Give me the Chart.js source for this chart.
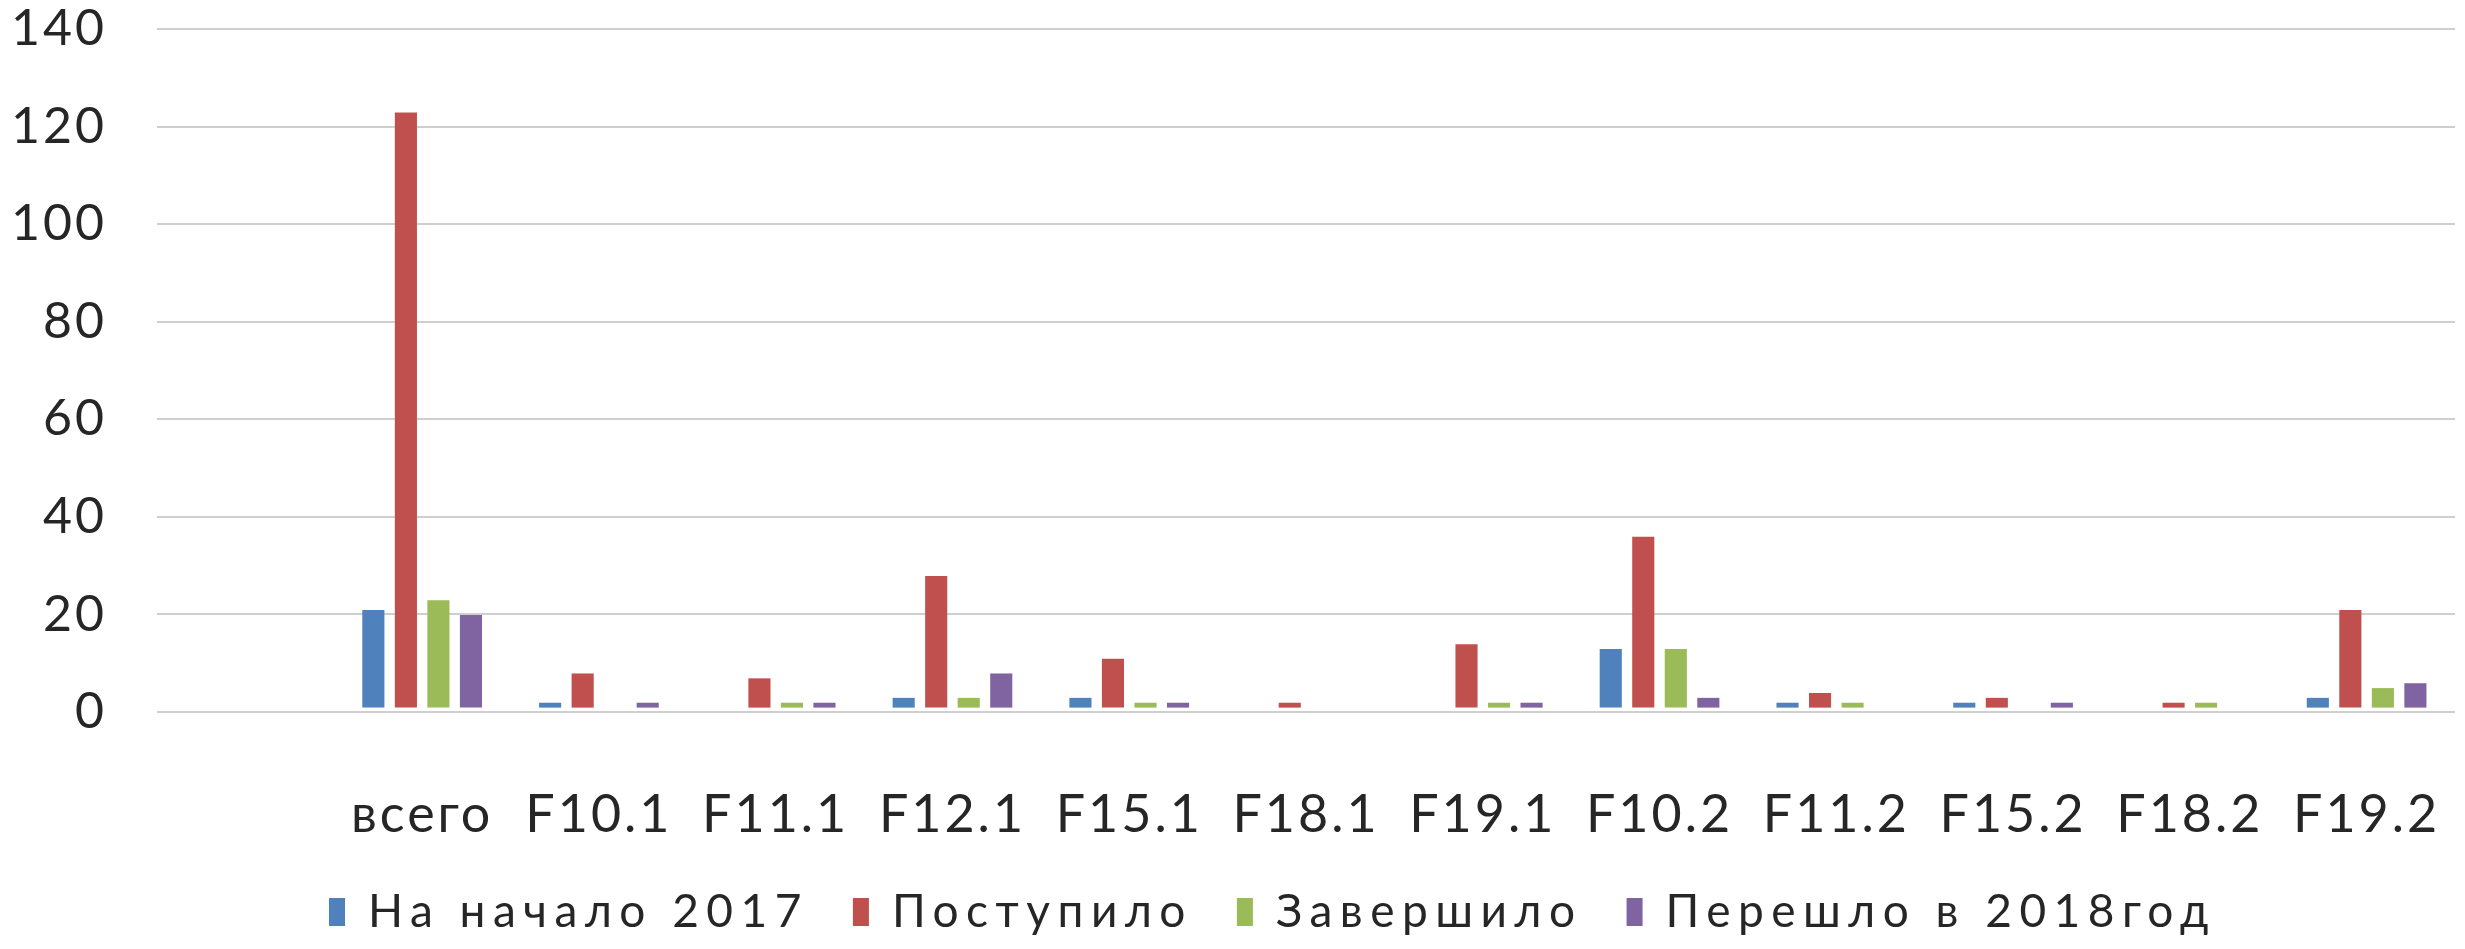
<!DOCTYPE html>
<html>
<head>
<meta charset="utf-8">
<script src="https://cdn.jsdelivr.net/npm/chart.js@4"></script>
<style>
  html, body { margin: 0; padding: 0; background: #ffffff; }
  #wrap { width: 2465px; height: 949px; position: relative; }
</style>
</head>
<body>
<div id="wrap"><canvas id="c"></canvas></div>
<script>
// ---- data ----
const categories = ['', 'всего', 'F10.1', 'F11.1', 'F12.1', 'F15.1', 'F18.1', 'F19.1', 'F10.2', 'F11.2', 'F15.2', 'F18.2', 'F19.2'];
const seriesNames = ['На начало 2017', 'Поступило', 'Завершило', 'Перешло в 2018год'];
const naNachalo2017 = [null, 20, 1, 0, 2, 2, 0, 0, 12, 1, 1, 0, 2];
const postupilo     = [null, 122, 7, 6, 27, 10, 1, 13, 35, 3, 2, 1, 20];
const zavershilo    = [null, 22, 0, 1, 2, 1, 0, 1, 12, 1, 0, 1, 4];
const pereshlo2018  = [null, 19, 1, 1, 7, 1, 0, 1, 2, 0, 1, 0, 5];
const yTicks = [0, 20, 40, 60, 80, 100, 120, 140];

const colors = ['#4F81BD', '#C0504D', '#9BBB59', '#8064A2'];
const FONT = 'Lato';
const TEXT = '#262626';
const SPACING = '3px';
const LEGEND_SPACING = '7.5px';
const LEGEND_SHIFT = 45;

const spacingPlugin = {
  id: 'spacing',
  afterInit(c) {
    const lg = c.legend;
    if (!lg) return;
    const fit0 = lg.fit, draw0 = lg.draw;
    lg.fit = function () {
      const ctx = this.ctx; const p = ctx.letterSpacing;
      ctx.letterSpacing = LEGEND_SPACING; fit0.call(this); ctx.letterSpacing = p;
    };
    lg.draw = function () {
      const ctx = this.ctx; ctx.save();
      ctx.letterSpacing = LEGEND_SPACING; ctx.translate(LEGEND_SHIFT, 0);
      draw0.call(this); ctx.restore();
    };
  },
  beforeUpdate(c) { c.ctx.letterSpacing = SPACING; },
  beforeLayout(c) { c.ctx.letterSpacing = SPACING; },
  beforeDraw(c) { c.ctx.letterSpacing = SPACING; }
};

const seriesData = [naNachalo2017, postupilo, zavershilo, pereshlo2018];
const datasets = seriesNames.map((name, i) => ({
  label: name,
  data: seriesData[i],
  backgroundColor: colors[i],
  borderWidth: 0,
  yAxisID: 'yBars',
  categoryPercentage: 0.736,
  barPercentage: 0.68
}));

new Chart(document.getElementById('c'), {
  type: 'bar',
  data: { labels: categories, datasets },
  plugins: [spacingPlugin],
  options: {
    responsive: true,
    maintainAspectRatio: false,
    animation: false,
    layout: { padding: { top: 0, left: 0, right: 10, bottom: 4 } },
    plugins: {
      tooltip: { enabled: false },
      legend: {
        position: 'bottom',
        labels: {
          font: { family: FONT, size: 46 },
          color: TEXT,
          boxWidth: 16,
          boxHeight: 28,
          padding: 44
        }
      }
    },
    scales: {
      x: {
        grid: { display: false, drawTicks: false },
        border: { display: false },
        ticks: {
          font: { family: FONT, size: 52 },
          color: TEXT,
          padding: 72,
          maxRotation: 0,
          autoSkip: false
        },
        afterFit(scale) { scale.height = 133; scale.paddingLeft = 0; scale.paddingRight = 0; }
      },
      y: {
        min: 0,
        max: 140,
        afterBuildTicks(scale) { scale.ticks = yTicks.map(v => ({ value: v })); },
        grid: { color: '#CFCFCF', lineWidth: 2, drawTicks: false },
        border: { display: false },
        ticks: {
          font: { family: FONT, size: 50 },
          color: TEXT,
          padding: 50
        },
        afterFit(scale) { scale.width = 157; scale.paddingTop = 29; scale.paddingBottom = 0; }
      },
      yBars: {
        display: false,
        min: -0.9,
        max: 139.1
      }
    }
  }
});
</script>
</body>
</html>
